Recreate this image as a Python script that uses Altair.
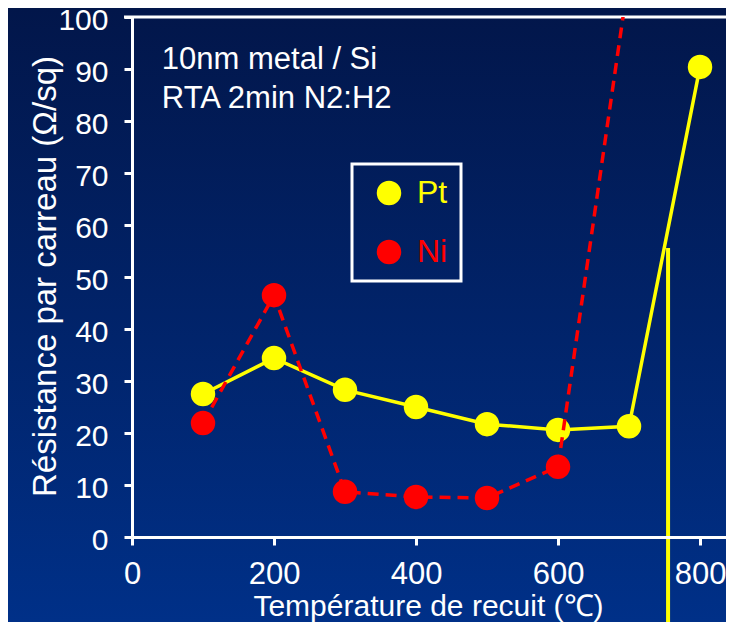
import altair as alt
import pandas as pd

# ---- data ----
pt_temps = [100, 200, 300, 400, 500, 600, 700, 800]
pt_values = [27.5, 34.4, 28.3, 25.0, 21.7, 20.6, 21.3, 90.4]
ni_temps = [100, 200, 300, 400, 500, 600, 700]
ni_values = [21.9, 46.5, 8.7, 7.7, 7.5, 13.5, 108.0]
series_names = ["Pt", "Ni"]
series_colors = ["#ffff00", "#ff0000"]
x_ticks = [0, 200, 400, 600, 800]
y_ticks = [0, 10, 20, 30, 40, 50, 60, 70, 80, 90, 100]
annotation_lines = ["10nm metal / Si", "RTA 2min N2:H2"]
annotation_x = [42, 42]
annotation_y = [90.0, 82.5]
marker_temp = [755]
marker_top = [55.6]

W, H = 594, 520
PAD_L, PAD_T, PAD_B = 124, 9, 85
X_MAX = 836.6
FONT = "Liberation Sans"
BG_TOP, BG_BOTTOM = "#02164a", "#003088"

pt_df = pd.DataFrame({"temp": pt_temps, "value": pt_values, "series": "Pt"})
ni_df = pd.DataFrame({"temp": ni_temps, "value": ni_values, "series": "Ni"})
ann_df = pd.DataFrame({"temp": annotation_x, "value": annotation_y, "text": annotation_lines})
rule_df = pd.DataFrame({"temp": marker_temp, "value": marker_top})

x_enc = alt.X(
    "temp:Q",
    scale=alt.Scale(domain=[0, X_MAX], nice=False, zero=False),
    axis=alt.Axis(
        values=x_ticks, title="Température de recuit (℃)", format="d", zindex=1,
        labelFlush=False, labelFontSize=31, labelPadding=14,
        titleX=296, titleY=78, titleBaseline="alphabetic", titleFontSize=30,
    ),
)
y_enc = alt.Y(
    "value:Q",
    scale=alt.Scale(domain=[0, 100], nice=False),
    axis=alt.Axis(
        values=y_ticks, title="Résistance par carreau (Ω/sq)", zindex=1,
        labelOffset=3, labelPadding=16, labelFontSize=30,
        titleX=-77, titleY=259, titleBaseline="alphabetic", titleFontSize=33,
    ),
)

color_enc = alt.Color(
    "series:N",
    scale=alt.Scale(domain=series_names, range=series_colors),
    legend=alt.Legend(
        title=None,
        orient="none",
        legendX=220,
        legendY=147,
        strokeColor="white",
        padding=13,
        symbolSize=600,
        symbolType="circle",
        symbolStrokeWidth=0,
        symbolOpacity=1,
        symbolOffset=8,
        labelFont=FONT,
        labelFontSize=32,
        labelOffset=12,
        labelColor=alt.ExprRef("datum.label === 'Pt' ? '#ffff00' : '#ff0000'"),
    ),
)

bg = alt.Chart(pd.DataFrame({"k": [0]})).mark_rect(
    color=alt.LinearGradient(
        gradient="linear",
        stops=[alt.GradientStop(color=BG_TOP, offset=0), alt.GradientStop(color=BG_BOTTOM, offset=1)],
        x1=0, x2=0, y1=0, y2=1,
    )
).encode(
    x=alt.value(-PAD_L), x2=alt.value(W + 10), y=alt.value(-PAD_T), y2=alt.value(H + PAD_B)
)

top_frame = alt.Chart(pd.DataFrame({"k": [0]})).mark_rule(color="white", strokeWidth=3).encode(
    x=alt.value(-8), x2=alt.value(W), y=alt.value(0)
)

pt_line = alt.Chart(pt_df).mark_line(color=series_colors[0], strokeWidth=3.5).encode(x=x_enc, y=y_enc)
pt_pts = alt.Chart(pt_df).mark_circle(size=600, opacity=1).encode(x=x_enc, y=y_enc, color=color_enc)
ni_line = alt.Chart(ni_df).mark_line(
    color=series_colors[1], strokeWidth=3.5, strokeDash=[11, 7], clip=True
).encode(x=x_enc, y=y_enc)
ni_pts = alt.Chart(ni_df).transform_filter("datum.value <= 100").mark_circle(size=600, opacity=1).encode(
    x=x_enc, y=y_enc, color=color_enc
)

vrule = alt.Chart(rule_df).mark_rule(color=series_colors[0], strokeWidth=4).encode(
    x=x_enc, y=y_enc, y2=alt.value(H + PAD_B)
)

ann = alt.Chart(ann_df).mark_text(
    align="left", baseline="alphabetic", color="white", font=FONT, fontSize=31
).encode(x=x_enc, y=y_enc, text="text:N")

chart = alt.layer(bg, top_frame, pt_line, pt_pts, ni_line, ni_pts, vrule, ann).properties(
    width=W,
    height=H,
    autosize=alt.AutoSizeParams(type="none"),
    padding={"left": PAD_L, "top": PAD_T, "right": 0, "bottom": PAD_B},
).configure(
    background=BG_BOTTOM,
).configure_view(
    stroke=None,
).configure_legend(
    strokeWidth=3,
    rowPadding=27,
).configure_axis(
    grid=False,
    domainColor="white",
    domainWidth=3,
    tickColor="white",
    tickWidth=3,
    tickSize=8,
    labelColor="white",
    labelFont=FONT,
    titleColor="white",
    titleFont=FONT,
    titleFontWeight="normal",
)

chart.save("out.html", embed_options={"renderer": "svg", "actions": False})
